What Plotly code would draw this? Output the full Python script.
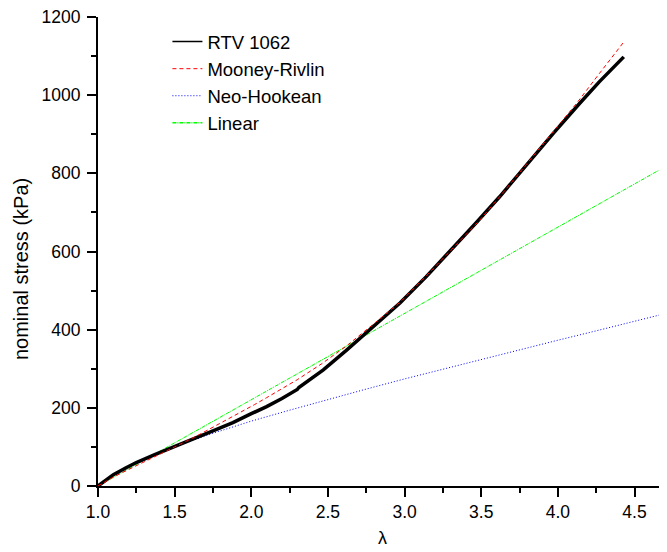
import plotly.graph_objects as go

# ---- data ----
lam_rtv = [1.00, 1.05, 1.10, 1.18, 1.25, 1.37, 1.50, 1.63, 1.75, 1.88, 2.00, 2.10, 2.20,
           2.30, 2.31, 2.47, 2.62, 2.79, 2.97, 3.14, 3.32, 3.47, 3.62, 3.80, 3.97, 4.14,
           4.27, 4.43]
stress_rtv = [0, 15, 29, 46, 60, 80, 100, 122, 141, 162, 185, 203, 224,
              247, 252, 297, 347, 406, 468, 535, 610, 675, 740, 825, 902, 978,
              1034, 1098]

lam_mr = [1.00, 1.11, 1.24, 1.37, 1.50, 1.63, 1.76, 1.90, 2.02, 2.10, 2.30, 2.46, 2.62,
          2.79, 2.97, 3.14, 3.32, 3.49, 3.62, 3.80, 3.97, 4.12, 4.27, 4.43]
stress_mr = [0, 25, 50, 76, 100, 125, 152, 181, 208, 226, 272, 313, 358,
             412, 470, 537, 610, 680, 740, 825, 905, 978, 1055, 1136]

lam_nh = [1.00, 1.10, 1.25, 1.50, 1.75, 2.00, 2.25, 2.50, 2.75, 3.00, 3.25, 3.50,
          3.75, 4.00, 4.25, 4.50, 4.75]
stress_nh = [0, 26, 58, 100, 135, 166, 194, 222, 248, 274, 299, 324,
             349, 373, 397, 421, 446]

lam_lin = [1.00, 4.75]
stress_lin = [0, 828]

series_names = ["RTV 1062", "Mooney-Rivlin", "Neo-Hookean", "Linear"]

FONT = "Liberation Sans, Arial, sans-serif"

fig = go.Figure()

fig.add_trace(go.Scatter(x=lam_lin, y=stress_lin, mode="lines", showlegend=False,
                         line=dict(color="#00ff00", width=1, dash="4px,1px,1px,1px")))
fig.add_trace(go.Scatter(x=lam_nh, y=stress_nh, mode="lines", showlegend=False,
                         line=dict(color="#0000ff", width=1, dash="1px,2px")))
fig.add_trace(go.Scatter(x=lam_rtv, y=stress_rtv, mode="lines", showlegend=False,
                         line=dict(color="#000000", width=3.5)))
fig.add_trace(go.Scatter(x=lam_mr, y=stress_mr, mode="lines", showlegend=False,
                         line=dict(color="#ff0000", width=1, dash="4px,3px")))

legend_styles = [
    dict(color="#000000", width=1.5),
    dict(color="#ff0000", width=1, dash="4px,3px"),
    dict(color="#0000ff", width=1, dash="1px,2px"),
    dict(color="#00ff00", width=1.5, dash="4px,1px,1px,1px"),
]
for name, ls in zip(series_names, legend_styles):
    fig.add_trace(go.Scatter(x=[None], y=[None], mode="lines", name=name, line=ls))

axis_common = dict(
    showline=True, linecolor="black", linewidth=2, mirror=False,
    ticks="outside", ticklen=9, tickwidth=2, tickcolor="black",
    showgrid=False, zeroline=False, automargin=False, ticklabeloverflow="allow",
    tickfont=dict(family=FONT, size=17.5, color="black"),
)

fig.update_xaxes(
    range=[1, 4.712], tick0=1, dtick=0.5, tickformat=".1f",
    minor=dict(dtick=0.25, ticks="outside", ticklen=5, tickwidth=2, tickcolor="black"),
    **axis_common,
)
fig.update_yaxes(
    range=[0, 1200], tick0=0, dtick=200, ticklabelstandoff=3,
    minor=dict(dtick=100, ticks="outside", ticklen=5, tickwidth=2, tickcolor="black"),
    **axis_common,
)

fig.add_annotation(
    text="nominal stress (kPa)", textangle=-90, showarrow=False,
    xref="paper", yref="paper", x=-0.134, y=0.462, xanchor="center", yanchor="middle",
    font=dict(family=FONT, size=20, color="black"),
)
fig.add_annotation(
    text="λ", showarrow=False,
    xref="paper", yref="paper", x=0.5, y=-0.1115, xanchor="center", yanchor="middle",
    font=dict(family=FONT, size=18, color="black"),
)

# page body has an 8px margin, so the figure is sized to the visible area
fig.update_layout(
    width=659, height=544,
    margin=dict(l=90, r=0, t=9, b=66),
    paper_bgcolor="white", plot_bgcolor="white",
    font=dict(family=FONT, color="black"),
    legend=dict(
        x=0.122, y=0.987, xanchor="left", yanchor="top",
        bgcolor="rgba(0,0,0,0)", borderwidth=0,
        font=dict(family=FONT, size=18.5, color="black"),
        tracegroupgap=0,
    ),
)

fig.write_html("out.html")
